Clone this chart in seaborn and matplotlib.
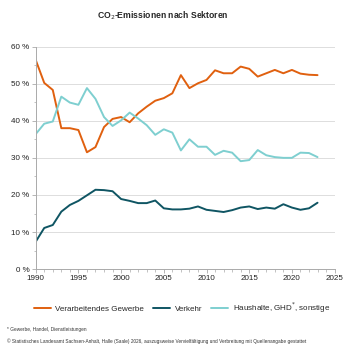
import numpy as np
import pandas as pd
import matplotlib
matplotlib.use("Agg")
import matplotlib.pyplot as plt
from matplotlib.ticker import MultipleLocator, FuncFormatter
import seaborn as sns

# CO2-Emissionen nach Sektoren, Anteile in %
years = list(range(1990, 2024))

gewerbe = [56.4, 50.2, 48.3, 38.0, 38.0, 37.5, 31.5, 32.9, 38.3, 40.5,
           41.0, 39.6, 42.0, 43.8, 45.4, 46.1, 47.4, 52.3, 48.8, 50.1,
           51.0, 53.6, 52.8, 52.8, 54.6, 54.0, 51.9, 52.8, 53.7, 52.8,
           53.7, 52.7, 52.4, 52.3]

verkehr = [7.4, 11.1, 11.9, 15.5, 17.3, 18.4, 19.9, 21.4, 21.3, 21.0,
           18.9, 18.4, 17.8, 17.8, 18.5, 16.4, 16.1, 16.1, 16.3, 16.9,
           16.0, 15.7, 15.4, 15.9, 16.6, 16.9, 16.2, 16.6, 16.3, 17.5,
           16.6, 16.0, 16.4, 17.9]

haushalte = [36.4, 39.2, 39.8, 46.5, 44.9, 44.3, 48.8, 45.9, 41.0, 38.6,
             40.1, 42.2, 40.6, 38.8, 36.2, 37.7, 36.8, 32.0, 35.0, 33.0,
             33.0, 30.8, 31.9, 31.4, 29.1, 29.4, 32.1, 30.7, 30.2, 30.0,
             30.0, 31.4, 31.3, 30.2]

sectors = ["Verarbeitendes Gewerbe", "Verkehr", "Haushalte, GHD$^{*}$, sonstige"]
colors = ["#e0600f", "#0f5563", "#7ecfd0"]

df = pd.DataFrame({
    "Jahr": years * 3,
    "Anteil": gewerbe + verkehr + haushalte,
    "Sektor": [sectors[0]] * len(years) + [sectors[1]] * len(years) + [sectors[2]] * len(years),
})

sns.set_style("white")
plt.rcParams['font.family'] = ['Liberation Sans', 'DejaVu Sans']

fig = plt.figure(figsize=(3.5, 3.5), dpi=100)
ax = fig.add_axes([0.102, 0.231, 0.854, 0.636])

sns.lineplot(data=df, x="Jahr", y="Anteil", hue="Sektor", hue_order=sectors,
             palette=colors, linewidth=1.4, ax=ax)

ax.set_xlim(1990, 2025)
ax.set_ylim(0, 60)
ax.xaxis.set_major_locator(MultipleLocator(5))
ax.xaxis.set_minor_locator(MultipleLocator(1))
ax.yaxis.set_major_locator(MultipleLocator(10))
ax.yaxis.set_minor_locator(MultipleLocator(5))
ax.yaxis.set_major_formatter(FuncFormatter(lambda v, p: f"{v:.0f} %"))
ax.grid(axis="y", which="major", color="#dddddd", linewidth=0.7)
ax.set_axisbelow(True)
for s in ["top", "right"]:
    ax.spines[s].set_visible(False)
for s in ["left", "bottom"]:
    ax.spines[s].set_color("#aaaaaa")
    ax.spines[s].set_linewidth(0.7)
ax.tick_params(axis="both", which="major", labelsize=5.8, length=3, width=0.6,
               color="#aaaaaa", labelcolor="#222222", pad=1.5, left=True, bottom=True)
ax.tick_params(axis="both", which="minor", length=1.8, width=0.5, color="#aaaaaa",
               left=True, bottom=True)
ax.set_xlabel("")
ax.set_ylabel("")

ax.get_legend().remove()
handles, labels = ax.get_legend_handles_labels()
fig.legend(handles, labels, loc="center", bbox_to_anchor=(0.52, 0.12), ncol=3,
           frameon=False, fontsize=5.8, handlelength=2.1, columnspacing=1.1,
           handletextpad=0.6)

fig.text(0.465, 0.956, "CO$_2$-Emissionen nach Sektoren", ha="center", va="center",
         fontsize=6.2, fontweight="bold")
fig.text(0.02, 0.058, "* Gewerbe, Handel, Dienstleistungen", fontsize=3.4,
         color="#333333", va="center")
fig.text(0.02, 0.024, "© Statistisches Landesamt Sachsen-Anhalt, Halle (Saale) 2026, "
         "auszugsweise Vervielfältigung und Verbreitung mit Quellenangabe gestattet",
         fontsize=3.4, color="#333333", va="center")

fig.savefig("out.png", dpi=100)
